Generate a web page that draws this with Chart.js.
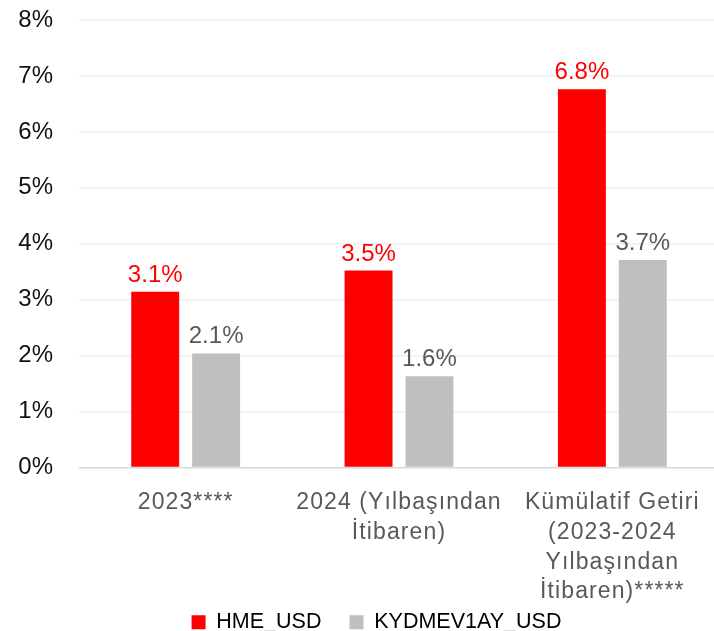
<!DOCTYPE html>
<html><head><meta charset="utf-8">
<script src="https://cdn.jsdelivr.net/npm/chart.js@4/dist/chart.umd.min.js"></script>
<style>
html,body{margin:0;padding:0;background:#fff;overflow:hidden;width:714px;height:631px;}
#wrap{position:absolute;left:0;top:0;width:749px;height:631px;}
</style></head>
<body><div id="wrap"><canvas id="c" width="749" height="631"></canvas></div>
<script>
const categories = [["2023****"], ["2024 (Yılbaşından", "İtibaren)"], ["Kümülatif Getiri", "(2023-2024", "Yılbaşından", "İtibaren)*****"]];
const seriesNames = ["HME_USD", "KYDMEV1AY_USD"];
const hmeValues = [3.14, 3.52, 6.76];
const kydValues = [2.04, 1.63, 3.71];
const hmeLabels = ["3.1%", "3.5%", "6.8%"];
const kydLabels = ["2.1%", "1.6%", "3.7%"];
const yTicks = [0, 1, 2, 3, 4, 5, 6, 7, 8];

const FONT = "'Liberation Sans', Arial, sans-serif";

const labelPlugin = {
  id: 'valueLabels',
  afterLayout(chart) {
    const xs = chart.scales.x;
    if (xs && !xs._lsPatched) {
      const orig = xs.drawLabels;
      xs._computeLabelArea = function () {
        return { top: this.top, left: 0, bottom: this.chart.height, right: this.chart.width };
      };
      xs.drawLabels = function (area) {
        const ctx = this.ctx;
        ctx.save();
        ctx.letterSpacing = '1.1px';
        orig.call(this, area);
        ctx.restore();
      };
      xs._lsPatched = true;
    }
    const lg = chart.legend;
    if (lg) { lg.left += 17; lg.right += 17; }
  },
  afterDatasetsDraw(chart) {
    const ctx = chart.ctx;
    const texts = [hmeLabels, kydLabels];
    const colors = ['#ff0000', '#595959'];
    chart.data.datasets.forEach((ds, i) => {
      const meta = chart.getDatasetMeta(i);
      meta.data.forEach((bar, j) => {
        ctx.save();
        ctx.font = "24px " + FONT;
        ctx.fillStyle = colors[i];
        ctx.textAlign = 'center';
        ctx.textBaseline = 'alphabetic';
        ctx.fillText(texts[i][j], bar.x, bar.y - 10);
        ctx.restore();
      });
    });
  }
};

new Chart(document.getElementById('c'), {
  type: 'bar',
  data: {
    labels: categories,
    datasets: [
      { label: seriesNames[0], data: hmeValues, backgroundColor: '#ff0000', categoryPercentage: 0.571, barPercentage: 0.787 },
      { label: seriesNames[1], data: kydValues, backgroundColor: '#bfbfbf', categoryPercentage: 0.571, barPercentage: 0.787 }
    ]
  },
  options: {
    responsive: false,
    animation: false,
    devicePixelRatio: 1,
    layout: { autoPadding: false, padding: { top: 20, right: 30, left: 0, bottom: -12 } },
    plugins: {
      tooltip: { enabled: false },
      legend: {
        position: 'bottom',
        labels: {
          font: { family: FONT, size: 21.5 },
          color: '#000',
          boxWidth: 14, boxHeight: 14,
          padding: 28
        }
      }
    },
    scales: {
      y: {
        min: 0, max: 8,
        afterFit(s) { s.width = 79; s.paddingTop = 0; s.paddingBottom = 0; },
        afterBuildTicks(s) { s.ticks = yTicks.map(v => ({ value: v })); },
        ticks: {
          padding: 26,
          color: '#111',
          font: { family: FONT, size: 24 },
          callback: v => v + '%'
        },
        grid: {
          drawTicks: false,
          lineWidth: 1.5,
          color: c => c.tick && c.tick.value === 0 ? '#d9d9d9' : '#f0f0f0'
        },
        border: { display: false }
      },
      x: {
        afterFit(s) { s.height = 116; s.paddingLeft = 0; s.paddingRight = 0; },
        ticks: {
          color: '#595959',
          font: { family: FONT, size: 23, lineHeight: 1.3 },
          padding: 20,
          maxRotation: 0, autoSkip: false
        },
        grid: { display: false, drawTicks: false },
        border: { display: false }
      }
    }
  },
  plugins: [labelPlugin]
});
</script></body></html>
